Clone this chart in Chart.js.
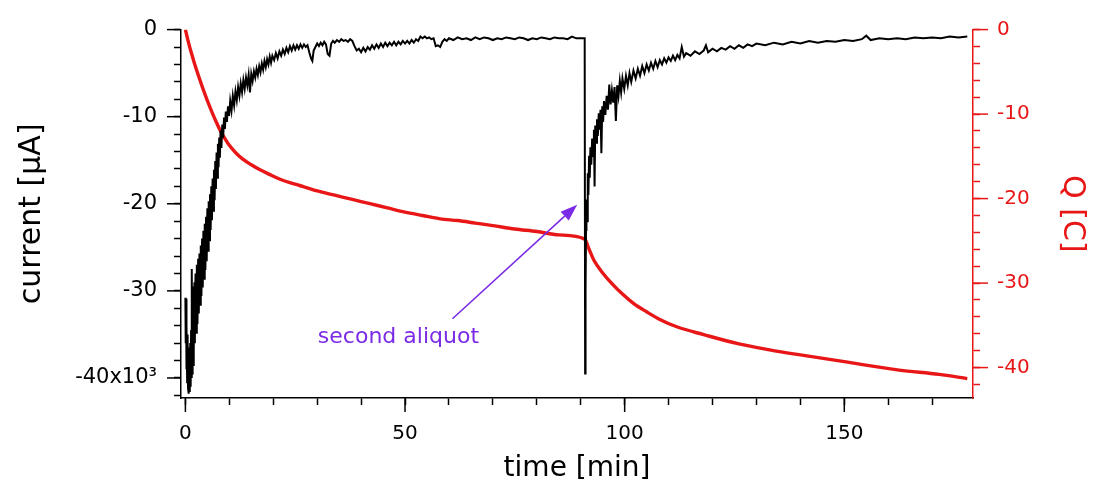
<!DOCTYPE html>
<html>
<head>
<meta charset="utf-8">
<script src="https://cdn.jsdelivr.net/npm/chart.js@4.4.0/dist/chart.umd.min.js"></script>
<style>
  html, body { margin: 0; padding: 0; background: #fff; }
  #chart { display: block; }
</style>
</head>
<body>
<canvas id="chart" width="1095" height="487"></canvas>
<script>
// current trace, [time (min), current]
var currentTrace = [
  [0.0,-30.8],[0.05,-36],[0.1,-33],[0.15,-30.9],[0.2,-39],[0.3,-34],[0.4,-40.5],[0.5,-35],[0.6,-41.2],[0.7,-36.5],
  [0.8,-41.8],[0.9,-37],[1.0,-41.6],[1.1,-36],[1.2,-41],[1.3,-34.5],[1.4,-40],[1.5,-27.5],[1.55,-39.5],[1.65,-30.5],
  [1.75,-38.5],[1.85,-29.5],[1.95,-37],[2.05,-29],[2.15,-36],[2.3,-28],[2.45,-34.8],[2.6,-27],[2.75,-33.8],[2.9,-26.3],
  [3.05,-32.6],[3.2,-25.7],[3.35,-31.6],[3.5,-24.8],[3.65,-30.6],[3.8,-24],[3.95,-29.6],[4.1,-23.1],[4.25,-28.6],[4.4,-22.3],
  [4.55,-27.6],[4.7,-21.5],[4.85,-26.6],[5.0,-20.5],[5.15,-25.4],[5.3,-19.7],[5.45,-24.2],[5.6,-18.9],[5.75,-23],[5.9,-18],
  [6.05,-21.9],[6.2,-17.1],[6.35,-20.8],[6.5,-16.1],[6.65,-19.6],[6.8,-15.1],[6.95,-18.3],[7.1,-14.1],[7.25,-17],[7.4,-13.1],
  [7.55,-15.8],[7.7,-12.4],[7.85,-14.7],[8.0,-11.6],[8.2,-13.6],[8.4,-10.9],[8.6,-12.4],[8.8,-10.1],[9.0,-11.4],[9.2,-9.4],
  [9.45,-10.6],[9.7,-8.8],[9.95,-9.9],[10.2,-8.2],[10.5,-9.3],[10.8,-7.6],[11.1,-8.7],[11.4,-7.1],[11.7,-8.1],[12.0,-6.6],
  [12.3,-7.6],[12.6,-6.2],[12.9,-7.2],[13.2,-5.8],[13.5,-6.8],[13.8,-5.5],[14.1,-6.4],[14.4,-5.2],[14.7,-7.2],[15.0,-5.1],
  [15.3,-5.9],[15.6,-4.8],[15.9,-5.5],[16.2,-4.5],[16.5,-5.2],[16.8,-4.2],[17.1,-4.9],[17.4,-3.9],[17.7,-4.6],[18.0,-3.6],
  [18.3,-4.3],[18.6,-3.4],[18.9,-4.0],[19.2,-3.1],[19.5,-3.8],[19.8,-3.0],[20.2,-3.5],[20.6,-2.7],[21.0,-3.3],[21.4,-2.5],
  [21.8,-3.0],[22.2,-2.3],[22.6,-2.8],[23.0,-2.1],[23.4,-2.6],[23.8,-1.9],[24.2,-2.4],[24.6,-1.8],[25.0,-2.3],[25.4,-1.8],
  [25.8,-2.2],[26.2,-1.7],[26.6,-2.1],[27.0,-1.7],[27.4,-2.0],[27.8,-1.8],[28.2,-2.6],[28.6,-3.3],[28.9,-3.6],[29.2,-2.4],
  [29.6,-2.0],[30.0,-1.6],[30.4,-1.9],[30.8,-1.5],[31.2,-1.8],[31.6,-1.4],[32.0,-1.7],[32.4,-2.8],[32.8,-3.0],[33.2,-1.6],
  [33.6,-1.3],[34.0,-1.5],[34.5,-1.2],[35.0,-1.4],[35.5,-1.1],[36.0,-1.3],[36.5,-1.2],[37.0,-1.4],[37.5,-1.1],[38.0,-1.3],
  [38.5,-1.9],[39.0,-2.4],[39.5,-2.2],[40.0,-2.6],[40.5,-2.1],[41.0,-2.5],[41.5,-2.0],[42.0,-2.3],[42.5,-1.8],[43.0,-2.2],
  [43.5,-1.7],[44.0,-2.1],[44.5,-1.6],[45.0,-2.0],[45.5,-1.5],[46.0,-1.9],[46.5,-1.5],[47.0,-1.8],[47.5,-1.4],[48.0,-1.8],
  [48.5,-1.4],[49.0,-1.7],[49.5,-1.3],[50.0,-1.6],[50.5,-1.3],[51.0,-1.6],[51.5,-1.2],[52.0,-1.5],[52.5,-1.1],[53.0,-1.3],
  [53.5,-0.8],[54.0,-1.0],[54.5,-0.8],[55.0,-1.0],[55.5,-0.9],[56.0,-1.1],[56.5,-1.0],[57.0,-1.9],[57.5,-1.8],[58.0,-2.0],
  [58.5,-1.4],[59.0,-1.1],[59.5,-1.3],[60.0,-1.0],[61,-1.2],[62,-0.9],[63,-1.1],[64,-1.0],[65,-1.2],[66,-0.9],
  [67,-1.1],[68,-0.9],[69,-1.0],[70,-1.2],[71,-1.0],[72,-1.1],[73,-0.9],[74,-1.0],[75,-1.1],[76,-0.9],
  [77,-1.0],[78,-1.2],[79,-1.0],[80,-1.1],[81,-0.9],[82,-1.0],[83,-1.1],[84,-0.9],[85,-1.0],[86,-1.0],
  [87,-1.1],[88,-0.8],[89,-1.0],[90,-1.0],[90.9,-1.0],
  // second aliquot
  [91.0,-39.5],[91.1,-30],[91.2,-23],[91.3,-19.5],[91.45,-22],[91.6,-16.5],[91.75,-19],[91.9,-14.5],[92.05,-17],[92.2,-13.5],
  [92.4,-15.5],[92.6,-12.5],[92.8,-14.5],[93.0,-11.5],[93.15,-18.0],[93.3,-11],[93.5,-13],[93.7,-10.3],[93.9,-12.2],[94.1,-9.6],
  [94.3,-11.5],[94.5,-9.2],[94.7,-14.2],[94.9,-8.8],[95.1,-10.6],[95.3,-8.2],[95.6,-9.8],[95.9,-7.6],[96.2,-9.2],[96.5,-6.3],
  [96.8,-8.6],[97.1,-7.0],[97.4,-8.4],[97.7,-6.6],[98.0,-10.5],[98.3,-6.4],[98.6,-7.6],[98.9,-5.9],[99.2,-7.2],[99.5,-5.6],
  [99.9,-6.8],[100.3,-5.3],[100.7,-6.4],[101.1,-5.0],[101.5,-6.0],[102,-4.7],[102.5,-5.6],[103,-4.5],[103.5,-5.3],[104,-4.2],
  [104.5,-5.0],[105,-4.0],[105.5,-4.7],[106,-3.8],[106.5,-4.5],[107,-3.6],[107.5,-4.3],[108,-3.5],[108.5,-4.0],[109,-3.3],
  [109.5,-3.8],[110,-3.2],[110.5,-3.6],[111,-3.0],[111.5,-3.5],[112,-2.9],[112.5,-3.3],[113,-2.0],[113.5,-3.1],[114,-2.7],
  [115,-3.0],[116,-2.5],[117,-2.8],[118,-2.4],[118.5,-1.8],[119,-2.6],[120,-2.2],[121,-2.5],[122,-2.1],[123,-2.3],
  [124,-1.9],[125,-2.2],[126,-1.8],[127,-2.1],[128,-1.7],[129,-1.9],[130,-1.6],[132,-1.8],[134,-1.5],[136,-1.7],
  [138,-1.4],[140,-1.6],[142,-1.3],[144,-1.5],[146,-1.3],[148,-1.4],[150,-1.2],[152,-1.3],[154,-1.1],[155,-0.7],
  [156,-1.2],[158,-1.0],[160,-1.1],[162,-1.0],[164,-1.1],[166,-0.9],[168,-1.0],[170,-0.9],[172,-1.0],[174,-0.8],
  [176,-0.9],[178,-0.8]
];

// charge trace, [time (min), Q]
var chargeTrace = [
  [0,0],[0.5,-1.1],[1,-2.1],[1.5,-3.0],[2,-3.9],[3,-5.5],[4,-7.0],[5,-8.4],[6,-9.7],[7,-10.9],
  [8,-12.0],[9,-12.9],[10,-13.7],[11.5,-14.6],[13,-15.3],[15,-16.0],[17,-16.6],[19,-17.1],[22,-17.8],[25,-18.3],
  [27,-18.6],[30,-19.1],[34,-19.6],[38,-20.1],[42,-20.6],[46,-21.1],[50,-21.6],[54,-22.0],[58,-22.4],[62,-22.6],
  [66,-22.9],[70,-23.2],[75,-23.6],[80,-23.9],[85,-24.3],[90.9,-24.8],[91.9,-26.0],[93,-27.3],[95,-28.8],[97,-30.0],
  [99.5,-31.3],[102,-32.4],[105,-33.4],[108,-34.3],[112,-35.2],[118,-36.1],[126,-37.2],[133,-37.9],[140,-38.5],[150,-39.3],
  [162.5,-40.3],[171.6,-40.8],[178,-41.3]
];

var currentTickValues = [0, -10, -20, -30, -40];
var currentTickLabels = ['0', '-10', '-20', '-30', '-40x10\u00b3'];
var chargeTickValues = [0, -10, -20, -30, -40];
var chargeTickLabels = ['0', '-10', '-20', '-30', '-40'];
var timeTickValues = [0, 50, 100, 150];
var timeTickLabels = ['0', '50', '100', '150'];

var noteText = 'second aliquot';
var notePos = [48.5, -35.3];      // time, current
var arrowTail = [60.8, -33.2];
var arrowHead = [89.2, -20.1];

var RED = 'rgb(232,22,22)';
var PURPLE = '#7b2be6';
var FONT = '"DejaVu Sans", sans-serif';

function pickLabel(values, labels) {
    return function(value) {
        var i = values.indexOf(Math.round(value * 1000) / 1000);
        return i >= 0 ? labels[i] : '';
    };
}

var majorTicks = {
    id: 'majorTicks',
    afterDraw: function(chart) {
        var ctx = chart.ctx, a = chart.chartArea;
        var sets = [
            { id: 'x', vals: timeTickValues, color: '#000' },
            { id: 'y', vals: currentTickValues, color: '#000' },
            { id: 'q', vals: chargeTickValues, color: RED }
        ];
        ctx.save();
        ctx.lineWidth = 1.5;
        sets.forEach(function(s) {
            var sc = chart.scales[s.id];
            ctx.strokeStyle = s.color;
            s.vals.forEach(function(v) {
                var p = sc.getPixelForValue(v);
                ctx.beginPath();
                if (s.id === 'x') { ctx.moveTo(p, a.bottom); ctx.lineTo(p, a.bottom + 14); }
                else if (s.id === 'y') { ctx.moveTo(a.left, p); ctx.lineTo(a.left - 14, p); }
                else { ctx.moveTo(a.right, p); ctx.lineTo(a.right + 15, p); }
                ctx.stroke();
            });
        });
        ctx.restore();
    }
};

var aliquotNote = {
    id: 'aliquotNote',
    afterDatasetsDraw: function(chart) {
        var xs = chart.scales.x, ys = chart.scales.y, ctx = chart.ctx;
        var x0 = xs.getPixelForValue(arrowTail[0]), y0 = ys.getPixelForValue(arrowTail[1]);
        var x1 = xs.getPixelForValue(arrowHead[0]), y1 = ys.getPixelForValue(arrowHead[1]);
        var ang = Math.atan2(y1 - y0, x1 - x0);
        var c = Math.cos(ang), s = Math.sin(ang);
        var len = 17, half = 6;
        ctx.save();
        ctx.strokeStyle = PURPLE;
        ctx.fillStyle = PURPLE;
        ctx.lineWidth = 1.6;
        ctx.beginPath();
        ctx.moveTo(x0, y0);
        ctx.lineTo(x1 - len * c, y1 - len * s);
        ctx.stroke();
        ctx.beginPath();
        ctx.moveTo(x1, y1);
        ctx.lineTo(x1 - len * c + half * s, y1 - len * s - half * c);
        ctx.lineTo(x1 - len * c - half * s, y1 - len * s + half * c);
        ctx.closePath();
        ctx.fill();
        ctx.font = '22px ' + FONT;
        ctx.textAlign = 'center';
        ctx.textBaseline = 'middle';
        ctx.fillText(noteText, xs.getPixelForValue(notePos[0]), ys.getPixelForValue(notePos[1]));
        ctx.restore();
    }
};

var whiteBg = {
    id: 'whiteBg',
    beforeDraw: function(chart) {
        var ctx = chart.ctx;
        ctx.save();
        ctx.globalCompositeOperation = 'destination-over';
        ctx.fillStyle = 'white';
        ctx.fillRect(0, 0, chart.width, chart.height);
        ctx.restore();
    }
};

var chart = new Chart(document.getElementById('chart'), {
    type: 'line',
    data: {
        datasets: [
            {
                label: 'current',
                data: currentTrace.map(function(p) { return { x: p[0], y: p[1] }; }),
                borderColor: '#000',
                borderWidth: 2,
                pointRadius: 0,
                tension: 0,
                yAxisID: 'y'
            },
            {
                label: 'Q',
                data: chargeTrace.map(function(p) { return { x: p[0], y: p[1] }; }),
                borderColor: RED,
                borderWidth: 3.4,
                pointRadius: 0,
                cubicInterpolationMode: 'monotone',
                yAxisID: 'q'
            }
        ]
    },
    options: {
        animation: false,
        responsive: false,
        devicePixelRatio: 1,
        layout: { padding: { top: 23, left: 0, right: 0, bottom: 0 } },
        plugins: {
            legend: { display: false },
            tooltip: { enabled: false }
        },
        scales: {
            x: {
                type: 'linear',
                position: 'bottom',
                min: -1.0,
                max: 179.3,
                afterFit: function(s) { s.height = 89; },
                border: { color: '#000', width: 1.5 },
                grid: { drawOnChartArea: false, tickLength: 7, tickWidth: 1.5, tickColor: '#000', color: '#000' },
                ticks: {
                    stepSize: 10,
                    includeBounds: false,
                    autoSkip: false,
                    maxRotation: 0,
                    padding: 17,
                    color: '#000',
                    font: { family: FONT, size: 20 },
                    callback: pickLabel(timeTickValues, timeTickLabels)
                },
                title: {
                    display: true,
                    text: 'time [min]',
                    color: '#000',
                    font: { family: FONT, size: 28, lineHeight: 1 },
                    padding: { top: 0, bottom: 4 }
                }
            },
            y: {
                type: 'linear',
                position: 'left',
                min: -42.3,
                max: 0,
                afterFit: function(s) { s.width = 181; },
                border: { color: '#000', width: 1.5 },
                grid: { drawOnChartArea: false, tickLength: 7, tickWidth: 1.5, tickColor: '#000', color: '#000' },
                ticks: {
                    stepSize: 2,
                    includeBounds: false,
                    autoSkip: false,
                    padding: 17,
                    color: '#000',
                    font: { family: FONT, size: 21 },
                    callback: pickLabel(currentTickValues, currentTickLabels)
                },
                title: {
                    display: true,
                    text: 'current [\u00b5A]',
                    color: '#000',
                    font: { family: FONT, size: 30, lineHeight: 1 },
                    padding: { top: 17, bottom: 0 }
                }
            },
            q: {
                type: 'linear',
                position: 'right',
                min: -43.6,
                max: 0,
                afterFit: function(s) { s.width = 122; },
                border: { color: RED, width: 1.5 },
                grid: { drawOnChartArea: false, tickLength: 7, tickWidth: 1.5, tickColor: RED, color: RED },
                ticks: {
                    stepSize: 2,
                    includeBounds: false,
                    autoSkip: false,
                    padding: 17,
                    color: RED,
                    font: { family: FONT, size: 20 },
                    callback: pickLabel(chargeTickValues, chargeTickLabels)
                },
                title: {
                    display: true,
                    text: 'Q [C]',
                    color: RED,
                    font: { family: FONT, size: 30, lineHeight: 1 },
                    padding: { top: 8, bottom: 0 }
                }
            }
        }
    },
    plugins: [whiteBg, majorTicks, aliquotNote]
});
</script>
</body>
</html>
